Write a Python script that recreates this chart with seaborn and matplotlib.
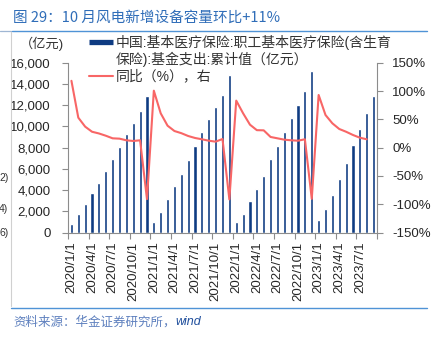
import numpy as np
import pandas as pd
import matplotlib
matplotlib.use("Agg")
import matplotlib.pyplot as plt
import seaborn as sns
from matplotlib.lines import Line2D
from matplotlib.ticker import FixedLocator, FuncFormatter, NullFormatter

# ---- data -------------------------------------------------------------
months = pd.date_range("2020-01-01", "2023-09-01", freq="MS")
month_labels = [f"{d.year}/{d.month}/1" for d in months]

# cumulative fund expenditure (100 million yuan)
spending = [800, 1770, 2710, 3690, 4690, 5790, 6920, 8020, 9280, 10340, 11410, 12860,
            960, 1960, 3160, 4350, 5540, 6830, 8160, 9470, 10690, 11790, 12980, 14870,
            960, 1770, 2940, 4100, 5290, 6920, 8150, 9470, 10760, 11980, 13330, 15180,
            1150, 2240, 3560, 5040, 6520, 8210, 9770, 11290, 12820]
# year-on-year change (%)
yoy = [118, 52.9, 37, 28, 25, 21, 16.4, 15.8, 12.9, 11.7, 12.9, -91,
       100.6, 60.6, 38.7, 29.3, 25.5, 20.5, 17, 14.7, 12.2, 10.5, 15.2, -91.5,
       83, 60.6, 40.5, 30.8, 30.5, 18.8, 16.4, 14, 12.9, 12.2, 14.7, -90.5,
       93, 57.6, 42.9, 32.9, 28, 22.3, 17.5, 14.7, np.nan]

left_ticks = [0, 2000, 4000, 6000, 8000, 10000, 12000, 14000, 16000]
right_ticks = [-150, -100, -50, 0, 50, 100, 150]

bar_label = "中国:基本医疗保险:职工基本医疗保险(含生育"
bar_label_2 = "保险):基金支出:累计值（亿元）"
line_label = "同比（%），右"
unit_label = "（亿元)"
title = "图 29：10 月风电新增设备容量环比+11%"
source = "资料来源：华金证券研究所，"
source_tail = "wind"

df = pd.DataFrame({"idx": np.arange(len(months)), "month": month_labels,
                   "spending": spending, "yoy": yoy})

# ---- style ------------------------------------------------------------
sns.set_theme(style="white")
plt.rcParams["font.family"] = ["Liberation Sans", "Noto Sans CJK SC"]
plt.rcParams["axes.unicode_minus"] = False

NAVY = "#0E3B82"
RED = "#F86666"
BLUE = "#2F6DB8"
AXIS = "#8C8C8C"
TXT = "#262626"

W, H = 433, 338
fig = plt.figure(figsize=(W / 100, H / 100), dpi=100)
px = lambda x: x / W
py = lambda y: 1 - y / H

ax = fig.add_axes([px(68), py(232.5), px(377) - px(68), py(62.7) - py(232.5)])
sns.barplot(data=df, x="idx", y="spending", ax=ax, color=NAVY,
            saturation=1, width=0.45)
ax.set_xlim(-0.5, len(months) - 0.5)
ax.set_ylim(0, 16000)
ax.set_xlabel("")
ax.set_ylabel("")

ax2 = ax.twinx()
sns.lineplot(data=df, x="idx", y="yoy", ax=ax2, color=RED, lw=1.5)
ax2.set_ylim(-150, 150)
ax2.set_ylabel("")
ax2.set_xlim(-0.5, len(months) - 0.5)

# x axis: tick marks between quarters, labels under the quarter's first month
n = len(months)
ax.xaxis.set_major_locator(FixedLocator(np.arange(-0.5, n, 3)))
ax.xaxis.set_major_formatter(NullFormatter())
label_pos = np.arange(0, n, 3)
ax.xaxis.set_minor_locator(FixedLocator(label_pos))
ax.xaxis.set_minor_formatter(FuncFormatter(lambda v, p: month_labels[int(round(v))]))
ax.tick_params(axis="x", which="major", direction="out", length=4, width=0.8,
               color=AXIS, bottom=True)
ax.tick_params(axis="x", which="minor", length=0, pad=6.5, labelsize=9.5,
               labelcolor=TXT, labelrotation=90, bottom=True)

ax.set_yticks(left_ticks)
ax.yaxis.set_major_formatter(FuncFormatter(lambda v, p: f"{v:,.0f}"))
ax.tick_params(axis="y", direction="out", length=4, width=0.8, color=AXIS,
               pad=8.5, labelsize=9.5, labelcolor=TXT, left=True)

ax2.set_yticks(right_ticks)
ax2.yaxis.set_major_formatter(FuncFormatter(lambda v, p: f"{v:.0f}%"))
ax2.tick_params(axis="y", direction="out", length=4, width=0.8, color=AXIS,
                pad=7, labelsize=9.5, labelcolor=TXT, right=True)

for a in (ax, ax2):
    a.spines["top"].set_visible(False)
    for s in ("left", "right", "bottom"):
        a.spines[s].set_color(AXIS)
        a.spines[s].set_linewidth(0.8)
ax.spines["right"].set_visible(False)
ax2.spines["left"].set_visible(False)
ax2.spines["bottom"].set_visible(False)
ax2.grid(False)
ax.grid(False)

# legend
handles = [Line2D([], [], color=NAVY, lw=3.8, solid_capstyle="butt"),
           Line2D([], [], color="none"),
           Line2D([], [], color=RED, lw=1.5)]
fig.legend(handles, [bar_label, bar_label_2, line_label], loc="upper left",
           bbox_to_anchor=(px(89), py(35)), frameon=False, fontsize=10,
           handlelength=1.7, handletextpad=0.25, labelspacing=0.15,
           borderpad=0, borderaxespad=0, labelcolor="#333333")

fig.text(px(20), py(44), unit_label, fontsize=9.5, color="#333333",
         ha="left", va="center")

# title and frame rules
fig.text(px(13), py(18), title, fontsize=10.5, color=BLUE, ha="left", va="center",
         family=["Noto Sans CJK SC", "DejaVu Sans"])
fig.add_artist(Line2D([px(0), px(10.5)], [py(30.5), py(30.5)], color="#9FB6D3", lw=0.9))
fig.add_artist(Line2D([px(12), px(427)], [py(31.3), py(31.3)], color="#4F93D6", lw=1.0))
fig.add_artist(Line2D([px(11), px(11)], [py(31.5), py(306)], color="#D0D0D0", lw=0.8))
fig.add_artist(Line2D([px(11), px(427)], [py(308.3), py(308.3)], color="#4F93D6", lw=1.0))

# fragments at left margin
for yy, s in ((178, "2)"), (209, "4)"), (232.5, "6)")):
    fig.text(px(-1), py(yy), s, fontsize=7.5, color="#333333", ha="left", va="center")

# source line
t = fig.text(px(13), py(322), source, fontsize=9, color="#5E80BE", ha="left",
             va="center", style="italic")
fig.canvas.draw()
bb = t.get_window_extent()
fig.text(bb.x1 / W, py(322), source_tail, fontsize=9, color="#1F4E9C", ha="left",
         va="center", style="italic", family=["Liberation Sans"])

fig.savefig("out.png", dpi=100, facecolor="white")
